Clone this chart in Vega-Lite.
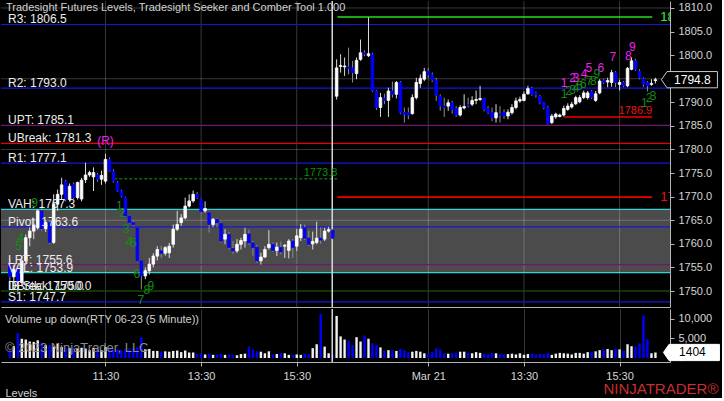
{
  "$schema": "https://vega.github.io/schema/vega-lite/v6.json",
  "background": "#000000",
  "padding": 0,
  "spacing": 0,
  "config": {
    "view": {"stroke": null},
    "font": "Liberation Sans",
    "text": {"font": "Liberation Sans"},
    "axis": {"labelFont": "Liberation Sans", "titleFont": "Liberation Sans"}
  },
  "title": {"text": "NINJATRADER®", "orient": "bottom", "anchor": "end", "offset": -16, "fontSize": 15, "fontWeight": "normal", "color": "#c23030", "font": "Liberation Sans", "dx": -3},
  "datasets": {
    "bars": [
      {"i":0,"o":1755.5,"h":1757.0,"l":1752.0,"c":1753.0,"v":2000},
      {"i":1,"o":1753.0,"h":1755.5,"l":1750.5,"c":1754.6,"v":3000},
      {"i":2,"o":1754.6,"h":1755.5,"l":1749.5,"c":1751.8,"v":6300},
      {"i":3,"o":1751.8,"h":1757.5,"l":1751.0,"c":1756.4,"v":4900},
      {"i":4,"o":1756.4,"h":1762.0,"l":1755.5,"c":1761.3,"v":4700},
      {"i":5,"o":1761.3,"h":1763.5,"l":1759.5,"c":1762.7,"v":4200},
      {"i":6,"o":1762.7,"h":1765.5,"l":1761.0,"c":1764.0,"v":4100},
      {"i":7,"o":1763.4,"h":1767.2,"l":1763.0,"c":1767.0,"v":4500},
      {"i":8,"o":1767.0,"h":1768.0,"l":1762.8,"c":1763.2,"v":3900},
      {"i":9,"o":1763.2,"h":1765.0,"l":1762.5,"c":1764.5,"v":3300},
      {"i":10,"o":1764.5,"h":1765.0,"l":1760.0,"c":1760.3,"v":3300},
      {"i":11,"o":1760.3,"h":1770.5,"l":1760.0,"c":1768.4,"v":2900},
      {"i":12,"o":1768.4,"h":1771.5,"l":1767.0,"c":1770.5,"v":3700},
      {"i":13,"o":1770.5,"h":1774.0,"l":1769.5,"c":1772.5,"v":2800},
      {"i":14,"o":1773.2,"h":1773.5,"l":1769.0,"c":1769.4,"v":2600},
      {"i":15,"o":1769.4,"h":1772.8,"l":1769.0,"c":1772.2,"v":2500},
      {"i":16,"o":1772.6,"h":1773.0,"l":1769.5,"c":1769.8,"v":2700},
      {"i":17,"o":1769.8,"h":1773.2,"l":1769.4,"c":1773.0,"v":2300},
      {"i":18,"o":1769.5,"h":1774.0,"l":1769.0,"c":1773.5,"v":2600},
      {"i":19,"o":1773.6,"h":1777.2,"l":1772.9,"c":1774.6,"v":2400},
      {"i":20,"o":1774.6,"h":1775.5,"l":1774.2,"c":1775.1,"v":2000},
      {"i":21,"o":1774.2,"h":1776.2,"l":1771.2,"c":1775.1,"v":2600},
      {"i":22,"o":1774.6,"h":1775.0,"l":1773.2,"c":1773.7,"v":2300},
      {"i":23,"o":1773.7,"h":1775.5,"l":1772.5,"c":1774.5,"v":2000},
      {"i":24,"o":1773.3,"h":1779.1,"l":1772.8,"c":1777.9,"v":2800},
      {"i":25,"o":1777.9,"h":1778.3,"l":1775.2,"c":1775.4,"v":2400},
      {"i":26,"o":1775.4,"h":1775.8,"l":1773.0,"c":1773.3,"v":2100},
      {"i":27,"o":1773.0,"h":1773.3,"l":1771.0,"c":1771.2,"v":2300},
      {"i":28,"o":1771.2,"h":1771.5,"l":1769.8,"c":1770.1,"v":2000},
      {"i":29,"o":1769.8,"h":1770.0,"l":1765.7,"c":1765.9,"v":2300},
      {"i":30,"o":1765.9,"h":1766.2,"l":1764.3,"c":1764.5,"v":2400},
      {"i":31,"o":1764.5,"h":1764.8,"l":1763.8,"c":1764.1,"v":2600},
      {"i":32,"o":1763.4,"h":1763.6,"l":1756.2,"c":1756.4,"v":2800},
      {"i":33,"o":1756.4,"h":1756.6,"l":1750.4,"c":1753.2,"v":5300},
      {"i":34,"o":1753.2,"h":1755.0,"l":1752.5,"c":1754.3,"v":2200},
      {"i":35,"o":1754.3,"h":1757.0,"l":1753.5,"c":1755.7,"v":2300},
      {"i":36,"o":1755.7,"h":1758.0,"l":1755.0,"c":1757.4,"v":1800},
      {"i":37,"o":1757.4,"h":1759.5,"l":1756.5,"c":1758.8,"v":1800},
      {"i":38,"o":1758.5,"h":1759.5,"l":1757.0,"c":1758.0,"v":1600},
      {"i":39,"o":1758.0,"h":1759.5,"l":1757.5,"c":1759.2,"v":1700},
      {"i":40,"o":1758.1,"h":1760.2,"l":1757.0,"c":1759.5,"v":1600},
      {"i":41,"o":1759.9,"h":1764.1,"l":1759.2,"c":1763.1,"v":1800},
      {"i":42,"o":1763.1,"h":1767.0,"l":1762.7,"c":1764.1,"v":1900},
      {"i":43,"o":1764.5,"h":1766.3,"l":1763.8,"c":1765.5,"v":1500},
      {"i":44,"o":1765.5,"h":1769.8,"l":1765.2,"c":1768.0,"v":1900},
      {"i":45,"o":1768.0,"h":1770.5,"l":1767.7,"c":1769.1,"v":1400},
      {"i":46,"o":1769.1,"h":1771.3,"l":1768.7,"c":1770.5,"v":1400},
      {"i":47,"o":1770.5,"h":1771.0,"l":1769.5,"c":1769.8,"v":1000},
      {"i":48,"o":1769.4,"h":1769.6,"l":1766.5,"c":1766.8,"v":1200},
      {"i":49,"o":1767.0,"h":1769.0,"l":1766.6,"c":1767.5,"v":900},
      {"i":50,"o":1766.6,"h":1766.8,"l":1762.4,"c":1764.1,"v":1100},
      {"i":51,"o":1764.1,"h":1765.5,"l":1763.5,"c":1765.2,"v":800},
      {"i":52,"o":1765.2,"h":1765.5,"l":1763.5,"c":1764.5,"v":900},
      {"i":53,"o":1764.3,"h":1764.6,"l":1760.3,"c":1760.6,"v":1100},
      {"i":54,"o":1761.0,"h":1763.1,"l":1759.9,"c":1762.0,"v":800},
      {"i":55,"o":1762.0,"h":1762.5,"l":1758.8,"c":1759.2,"v":900},
      {"i":56,"o":1759.0,"h":1760.6,"l":1757.9,"c":1758.5,"v":700},
      {"i":57,"o":1758.5,"h":1761.0,"l":1758.1,"c":1759.9,"v":700},
      {"i":58,"o":1759.9,"h":1761.3,"l":1758.8,"c":1760.7,"v":1000},
      {"i":59,"o":1760.6,"h":1763.4,"l":1759.2,"c":1762.0,"v":1100},
      {"i":60,"o":1762.1,"h":1763.0,"l":1759.8,"c":1760.2,"v":2900},
      {"i":61,"o":1760.2,"h":1760.6,"l":1757.5,"c":1759.2,"v":2100},
      {"i":62,"o":1759.3,"h":1759.8,"l":1756.0,"c":1756.4,"v":1700},
      {"i":63,"o":1756.4,"h":1758.1,"l":1755.6,"c":1757.2,"v":1600},
      {"i":64,"o":1757.2,"h":1759.5,"l":1757.0,"c":1758.8,"v":1200},
      {"i":65,"o":1759.2,"h":1762.9,"l":1758.8,"c":1759.9,"v":1700},
      {"i":66,"o":1759.9,"h":1760.3,"l":1758.3,"c":1758.6,"v":900},
      {"i":67,"o":1758.6,"h":1760.3,"l":1757.4,"c":1759.3,"v":1000},
      {"i":68,"o":1759.2,"h":1760.5,"l":1757.8,"c":1758.3,"v":1300},
      {"i":69,"o":1759.5,"h":1760.0,"l":1757.0,"c":1759.7,"v":1200},
      {"i":70,"o":1758.6,"h":1761.0,"l":1756.9,"c":1760.6,"v":800},
      {"i":71,"o":1760.6,"h":1761.0,"l":1757.0,"c":1759.2,"v":800},
      {"i":72,"o":1759.5,"h":1763.1,"l":1758.5,"c":1761.7,"v":900},
      {"i":73,"o":1761.3,"h":1764.2,"l":1760.6,"c":1763.1,"v":800},
      {"i":74,"o":1763.4,"h":1764.1,"l":1760.8,"c":1761.2,"v":1100},
      {"i":75,"o":1761.2,"h":1762.8,"l":1759.5,"c":1759.9,"v":900},
      {"i":76,"o":1760.0,"h":1762.6,"l":1758.8,"c":1760.5,"v":2500},
      {"i":77,"o":1760.3,"h":1764.7,"l":1759.9,"c":1761.2,"v":3500},
      {"i":78,"o":1761.2,"h":1763.5,"l":1760.0,"c":1760.8,"v":11200},
      {"i":79,"o":1761.0,"h":1763.4,"l":1760.6,"c":1762.7,"v":2900},
      {"i":80,"o":1762.7,"h":1763.6,"l":1762.4,"c":1763.0,"v":1200},
      {"i":81,"o":1762.9,"h":1763.2,"l":1760.9,"c":1761.2,"v":800},
      {"i":82,"o":1791.3,"h":1799.1,"l":1790.6,"c":1797.3,"v":10700},
      {"i":83,"o":1797.6,"h":1800.2,"l":1796.3,"c":1797.8,"v":5500},
      {"i":84,"o":1797.5,"h":1799.5,"l":1795.6,"c":1797.7,"v":4700},
      {"i":85,"o":1797.5,"h":1801.6,"l":1795.9,"c":1797.2,"v":4400},
      {"i":86,"o":1797.3,"h":1798.8,"l":1794.2,"c":1796.3,"v":3300},
      {"i":87,"o":1796.1,"h":1799.5,"l":1794.9,"c":1798.9,"v":5300},
      {"i":88,"o":1799.1,"h":1803.3,"l":1798.8,"c":1800.5,"v":4200},
      {"i":89,"o":1800.5,"h":1801.0,"l":1799.8,"c":1800.2,"v":5700},
      {"i":90,"o":1799.9,"h":1808.0,"l":1799.6,"c":1800.3,"v":4900},
      {"i":91,"o":1800.2,"h":1800.5,"l":1792.2,"c":1792.5,"v":3700},
      {"i":92,"o":1792.4,"h":1792.6,"l":1788.4,"c":1788.9,"v":3300},
      {"i":93,"o":1788.9,"h":1792.0,"l":1786.9,"c":1791.0,"v":2700},
      {"i":94,"o":1790.9,"h":1791.8,"l":1789.6,"c":1790.4,"v":1800},
      {"i":95,"o":1790.4,"h":1793.1,"l":1786.9,"c":1792.4,"v":2000},
      {"i":96,"o":1792.4,"h":1794.4,"l":1791.0,"c":1791.7,"v":2000},
      {"i":97,"o":1791.7,"h":1794.5,"l":1790.8,"c":1794.2,"v":1800},
      {"i":98,"o":1794.2,"h":1794.5,"l":1787.5,"c":1787.8,"v":2300},
      {"i":99,"o":1787.8,"h":1788.9,"l":1785.7,"c":1787.4,"v":2000},
      {"i":100,"o":1787.8,"h":1788.9,"l":1786.4,"c":1787.3,"v":1500},
      {"i":101,"o":1787.6,"h":1791.7,"l":1787.4,"c":1791.0,"v":1600},
      {"i":102,"o":1791.0,"h":1795.2,"l":1790.6,"c":1794.2,"v":1800},
      {"i":103,"o":1794.0,"h":1795.9,"l":1793.1,"c":1795.1,"v":1600},
      {"i":104,"o":1794.9,"h":1797.3,"l":1794.5,"c":1796.5,"v":1200},
      {"i":105,"o":1796.6,"h":1797.3,"l":1795.2,"c":1795.8,"v":1100},
      {"i":106,"o":1795.8,"h":1796.3,"l":1794.3,"c":1794.7,"v":1500},
      {"i":107,"o":1794.7,"h":1795.2,"l":1790.3,"c":1791.5,"v":2500},
      {"i":108,"o":1791.3,"h":1791.7,"l":1788.2,"c":1789.2,"v":2200},
      {"i":109,"o":1789.2,"h":1791.0,"l":1786.9,"c":1788.9,"v":1200},
      {"i":110,"o":1789.2,"h":1790.6,"l":1788.2,"c":1789.9,"v":1100},
      {"i":111,"o":1789.9,"h":1790.3,"l":1787.6,"c":1788.5,"v":1200},
      {"i":112,"o":1788.7,"h":1789.2,"l":1786.9,"c":1787.3,"v":1400},
      {"i":113,"o":1787.3,"h":1789.4,"l":1787.0,"c":1788.9,"v":1600},
      {"i":114,"o":1788.8,"h":1791.7,"l":1788.5,"c":1789.1,"v":1600},
      {"i":115,"o":1789.5,"h":1791.0,"l":1788.9,"c":1789.3,"v":1300},
      {"i":116,"o":1789.6,"h":1791.3,"l":1789.2,"c":1790.4,"v":1200},
      {"i":117,"o":1790.4,"h":1792.5,"l":1789.6,"c":1790.6,"v":1500},
      {"i":118,"o":1790.6,"h":1793.5,"l":1790.3,"c":1790.8,"v":1300},
      {"i":119,"o":1790.8,"h":1791.0,"l":1788.1,"c":1788.5,"v":1100},
      {"i":120,"o":1788.7,"h":1789.2,"l":1787.5,"c":1787.8,"v":1000},
      {"i":121,"o":1787.8,"h":1788.9,"l":1786.0,"c":1786.7,"v":1300},
      {"i":122,"o":1786.7,"h":1789.6,"l":1785.7,"c":1787.8,"v":1200},
      {"i":123,"o":1787.5,"h":1789.2,"l":1785.7,"c":1787.3,"v":1000},
      {"i":124,"o":1787.9,"h":1788.5,"l":1786.5,"c":1787.2,"v":900},
      {"i":125,"o":1787.1,"h":1788.5,"l":1786.4,"c":1787.9,"v":1000},
      {"i":126,"o":1787.8,"h":1789.6,"l":1787.4,"c":1788.9,"v":1100},
      {"i":127,"o":1788.9,"h":1791.0,"l":1788.5,"c":1790.3,"v":900},
      {"i":128,"o":1790.3,"h":1791.2,"l":1789.9,"c":1790.6,"v":1200},
      {"i":129,"o":1790.4,"h":1792.3,"l":1790.2,"c":1791.7,"v":800},
      {"i":130,"o":1791.8,"h":1793.5,"l":1791.6,"c":1792.9,"v":1000},
      {"i":131,"o":1793.0,"h":1793.3,"l":1791.4,"c":1791.7,"v":1100},
      {"i":132,"o":1792.0,"h":1792.3,"l":1791.0,"c":1791.6,"v":900},
      {"i":133,"o":1791.3,"h":1791.6,"l":1789.6,"c":1789.9,"v":1100},
      {"i":134,"o":1789.9,"h":1790.1,"l":1788.5,"c":1788.9,"v":1000},
      {"i":135,"o":1788.9,"h":1789.2,"l":1785.3,"c":1785.5,"v":1300},
      {"i":136,"o":1785.7,"h":1787.5,"l":1785.4,"c":1787.1,"v":800},
      {"i":137,"o":1786.9,"h":1787.8,"l":1786.5,"c":1787.5,"v":1100},
      {"i":138,"o":1787.0,"h":1787.6,"l":1786.8,"c":1787.3,"v":1300},
      {"i":139,"o":1787.3,"h":1789.3,"l":1787.0,"c":1788.7,"v":1200},
      {"i":140,"o":1788.5,"h":1789.8,"l":1788.2,"c":1789.2,"v":1100},
      {"i":141,"o":1789.0,"h":1790.1,"l":1788.7,"c":1789.6,"v":900},
      {"i":142,"o":1789.7,"h":1791.4,"l":1789.4,"c":1791.0,"v":1300},
      {"i":143,"o":1790.1,"h":1791.5,"l":1789.8,"c":1791.0,"v":1300},
      {"i":144,"o":1791.0,"h":1792.5,"l":1790.7,"c":1792.0,"v":1100},
      {"i":145,"o":1791.0,"h":1792.4,"l":1790.6,"c":1792.0,"v":1500},
      {"i":146,"o":1792.3,"h":1792.6,"l":1790.7,"c":1791.0,"v":1500},
      {"i":147,"o":1790.4,"h":1792.4,"l":1790.1,"c":1791.8,"v":1700},
      {"i":148,"o":1792.0,"h":1794.9,"l":1791.7,"c":1794.5,"v":2000},
      {"i":149,"o":1794.7,"h":1795.0,"l":1793.9,"c":1794.2,"v":2200},
      {"i":150,"o":1794.3,"h":1795.2,"l":1793.2,"c":1794.6,"v":2300},
      {"i":151,"o":1794.2,"h":1796.9,"l":1793.3,"c":1796.3,"v":2000},
      {"i":152,"o":1796.3,"h":1796.6,"l":1793.2,"c":1794.2,"v":2400},
      {"i":153,"o":1793.8,"h":1794.8,"l":1792.5,"c":1794.2,"v":2200},
      {"i":154,"o":1794.2,"h":1794.5,"l":1793.2,"c":1793.5,"v":1800},
      {"i":155,"o":1793.5,"h":1797.5,"l":1793.2,"c":1797.2,"v":3500},
      {"i":156,"o":1797.0,"h":1799.5,"l":1796.8,"c":1798.8,"v":3000},
      {"i":157,"o":1798.8,"h":1799.2,"l":1796.7,"c":1797.0,"v":2900},
      {"i":158,"o":1796.6,"h":1797.0,"l":1794.9,"c":1795.2,"v":3700},
      {"i":159,"o":1795.0,"h":1795.3,"l":1793.3,"c":1793.8,"v":10800},
      {"i":160,"o":1794.2,"h":1794.5,"l":1792.3,"c":1793.5,"v":4800},
      {"i":161,"o":1793.8,"h":1794.9,"l":1793.5,"c":1794.0,"v":1200},
      {"i":162,"o":1794.6,"h":1795.2,"l":1794.0,"c":1794.8,"v":1404}
    ],
    "levels": [
      {"n":"R3: 1806.5","p":1806.5,"k":"piv"},
      {"n":"R2: 1793.0","p":1793.0,"k":"piv"},
      {"n":"UPT: 1785.1","p":1785.1,"k":"tgt"},
      {"n":"UBreak: 1781.3","p":1781.3,"k":"brk"},
      {"n":"R1: 1777.1","p":1777.1,"k":"piv"},
      {"n":"VAH: 1767.3","p":1767.3,"k":"va"},
      {"n":"Pivot: 1763.6","p":1763.6,"k":"piv"},
      {"n":"LRT: 1755.6","p":1755.6,"k":"tgt"},
      {"n":"VAL: 1753.9","p":1753.9,"k":"va"},
      {"n":"DBreak: 1750.0","p":1750.0,"k":"dbrk"},
      {"n":"IB Stk: 1750.0","p":1750.0,"k":"dbrk"},
      {"n":"S1: 1747.7","p":1747.7,"k":"piv"}
    ],
    "valueArea": [{"lo":1753.9,"hi":1767.3}],
    "hgrid": [{"p":1750},{"p":1765},{"p":1780},{"p":1795},{"p":1810}],
    "vgrid": [{"i":24},{"i":48},{"i":72},{"i":105},{"i":129},{"i":153}],
    "session": [{"i":80.9}],
    "segments": [
      {"x1":82.2,"x2":161.2,"p":1808.1,"k":"g","t":"1808.1"},
      {"x1":82.2,"x2":161.2,"p":1769.9,"k":"r","t":"1769.9"},
      {"x1":26.2,"x2":82.2,"p":1773.8,"k":"d","t":"1773.8"},
      {"x1":139.1,"x2":161.2,"p":1786.9,"k":"t","t":"1786.9"}
    ],
    "tags": [
      {"i":24.0,"p":1781.8,"t":"(R)","k":"s"},
      {"i":139.1,"p":1794.1,"t":"1","k":"s"},
      {"i":141.2,"p":1795.2,"t":"2","k":"s"},
      {"i":142.1,"p":1795.2,"t":"3","k":"s"},
      {"i":144.1,"p":1796.0,"t":"4","k":"s"},
      {"i":145.3,"p":1797.3,"t":"5","k":"s"},
      {"i":148.3,"p":1797.3,"t":"6","k":"s"},
      {"i":151.3,"p":1799.6,"t":"7","k":"s"},
      {"i":155.2,"p":1799.8,"t":"8","k":"s"},
      {"i":156.2,"p":1801.7,"t":"9","k":"s"},
      {"i":139.1,"p":1791.7,"t":"1","k":"c"},
      {"i":140.2,"p":1792.3,"t":"2","k":"c"},
      {"i":141.2,"p":1792.6,"t":"3","k":"c"},
      {"i":142.1,"p":1793.0,"t":"4","k":"c"},
      {"i":142.9,"p":1793.5,"t":"5","k":"c"},
      {"i":143.9,"p":1793.9,"t":"6","k":"c"},
      {"i":145.4,"p":1794.5,"t":"7","k":"c"},
      {"i":146.4,"p":1794.5,"t":"8","k":"c"},
      {"i":147.3,"p":1796.0,"t":"9","k":"c"},
      {"i":159.2,"p":1789.9,"t":"1","k":"c"},
      {"i":160.4,"p":1790.9,"t":"2","k":"c"},
      {"i":161.4,"p":1791.3,"t":"3","k":"c"},
      {"i":6.2,"p":1768.7,"t":"9","k":"c"},
      {"i":2.7,"p":1761.2,"t":"4","k":"c"},
      {"i":2.2,"p":1759.5,"t":"5","k":"c"},
      {"i":27.5,"p":1768.0,"t":"1","k":"c"},
      {"i":28.2,"p":1766.5,"t":"2","k":"c"},
      {"i":29.2,"p":1763.1,"t":"3","k":"c"},
      {"i":29.9,"p":1760.4,"t":"4","k":"c"},
      {"i":31.0,"p":1760.2,"t":"5","k":"c"},
      {"i":31.9,"p":1753.6,"t":"6","k":"c"},
      {"i":32.9,"p":1748.1,"t":"7","k":"c"},
      {"i":34.4,"p":1750.2,"t":"8","k":"c"},
      {"i":35.4,"p":1751.1,"t":"9","k":"c"}
    ]
  },
  "vconcat": [
    {
      "width": 669,
      "height": 306,
      "title": {"text": "Tradesight Futures Levels, Tradesight Seeker and Comber Tool 1.000", "anchor": "start", "frame": "group", "orient": "top", "offset": -13, "dx": 5, "baseline": "top", "fontSize": 11, "fontWeight": "normal", "color": "#d2d2d2", "font": "Liberation Sans"},
      "resolve": {"scale": {"color": "independent", "strokeDash": "independent", "strokeWidth": "independent"}, "axis": {"x": "independent", "y": "independent"}},
      "layer": [
        {
          "data": {"name": "bars"},
          "mark": {"type": "rule", "strokeWidth": 1},
          "encoding": {
            "x": {"field": "i", "type": "quantitative", "scale": {"domain": [-0.96, 164.4], "nice": false, "zero": false}, "axis": {"orient": "bottom", "labels": false, "ticks": false, "grid": false, "domain": true, "domainColor": "#b4b4b4", "title": null}},
            "y": {"field": "l", "type": "quantitative", "scale": {"domain": [1746.61, 1811.48], "nice": false, "zero": false}, "axis": {"orient": "right", "values": [1750, 1755, 1760, 1765, 1770, 1775, 1780, 1785, 1790, 1795, 1800, 1805, 1810], "format": ".1f", "grid": false, "title": null, "domainColor": "#b4b4b4", "tickColor": "#b4b4b4", "tickSize": 4, "labelColor": "#d6d6d6", "labelFontSize": 11, "labelPadding": 4}},
            "y2": {"field": "h"},
            "opacity": {"value": 0}
          }
        },
        {
          "data": {"name": "valueArea"},
          "mark": {"type": "rect", "color": "#4b4b4b"},
          "encoding": {
            "y": {"field": "lo", "type": "quantitative", "scale": {"domain": [1746.61, 1811.48], "nice": false, "zero": false}, "axis": null},
            "y2": {"field": "hi"}
          }
        },
        {
          "data": {"name": "hgrid"},
          "mark": {"type": "rule", "color": "#ffffff", "opacity": 0.22, "strokeWidth": 1},
          "encoding": {
            "y": {"field": "p", "type": "quantitative", "scale": {"domain": [1746.61, 1811.48], "nice": false, "zero": false}, "axis": null}
          }
        },
        {
          "data": {"name": "vgrid"},
          "mark": {"type": "rule", "color": "#ffffff", "opacity": 0.22, "strokeWidth": 1},
          "encoding": {
            "x": {"field": "i", "type": "quantitative", "scale": {"domain": [-0.96, 164.4], "nice": false, "zero": false}, "axis": null}
          }
        },
        {
          "data": {"name": "levels"},
          "mark": {"type": "rule"},
          "encoding": {
            "y": {"field": "p", "type": "quantitative", "scale": {"domain": [1746.61, 1811.48], "nice": false, "zero": false}, "axis": null},
            "color": {"field": "k", "type": "nominal", "scale": {"domain": ["piv", "tgt", "brk", "va", "dbrk"], "range": ["#1616d8", "#701870", "#e80000", "#30d4d4", "#073f07"]}, "legend": null},
            "strokeWidth": {"field": "k", "type": "nominal", "scale": {"domain": ["piv", "tgt", "brk", "va", "dbrk"], "range": [1.2, 1.1, 1.4, 1.4, 2.6]}, "legend": null}
          }
        },
        {
          "data": {"name": "segments"},
          "mark": {"type": "rule", "strokeWidth": 1.6},
          "encoding": {
            "x": {"field": "x1", "type": "quantitative", "scale": {"domain": [-0.96, 164.4], "nice": false, "zero": false}, "axis": null},
            "x2": {"field": "x2"},
            "y": {"field": "p", "type": "quantitative", "scale": {"domain": [1746.61, 1811.48], "nice": false, "zero": false}, "axis": null},
            "color": {"field": "k", "type": "nominal", "scale": {"domain": ["g", "r", "d", "t"], "range": ["#22e022", "#f00000", "#0a6a0a", "#f00000"]}, "legend": null},
            "strokeDash": {"field": "k", "type": "nominal", "scale": {"domain": ["g", "r", "d", "t"], "range": [[1, 0], [1, 0], [3, 2], [1, 0]]}, "legend": null}
          }
        },
        {
          "data": {"name": "session"},
          "mark": {"type": "rule", "color": "#d8d8d8", "strokeWidth": 1.5},
          "encoding": {
            "x": {"field": "i", "type": "quantitative", "scale": {"domain": [-0.96, 164.4], "nice": false, "zero": false}, "axis": null}
          }
        },
        {
          "data": {"name": "bars"},
          "mark": {"type": "rule", "strokeWidth": 1},
          "encoding": {
            "x": {"field": "i", "type": "quantitative", "scale": {"domain": [-0.96, 164.4], "nice": false, "zero": false}, "axis": null},
            "y": {"field": "l", "type": "quantitative", "scale": {"domain": [1746.61, 1811.48], "nice": false, "zero": false}, "axis": null},
            "y2": {"field": "h"},
            "color": {"condition": {"test": "datum.c < datum.o", "value": "#8c8c8c"}, "value": "#dcdcdc"}
          }
        },
        {
          "data": {"name": "bars"},
          "mark": {"type": "bar", "size": 2.6, "strokeWidth": 0.8},
          "encoding": {
            "x": {"field": "i", "type": "quantitative", "scale": {"domain": [-0.96, 164.4], "nice": false, "zero": false}, "axis": null},
            "y": {"field": "o", "type": "quantitative", "scale": {"domain": [1746.61, 1811.48], "nice": false, "zero": false}, "axis": null},
            "y2": {"field": "c"},
            "fill": {"condition": {"test": "datum.c < datum.o", "value": "#0000ff"}, "value": "#ffffff"},
            "stroke": {"condition": {"test": "datum.c < datum.o", "value": "#0000ff"}, "value": "#ffffff"}
          }
        },
        {
          "data": {"name": "levels"},
          "mark": {"type": "text", "align": "left", "baseline": "alphabetic", "dx": 2, "dy": -1, "fontSize": 12, "color": "#ececec"},
          "encoding": {
            "x": {"datum": -0.96, "type": "quantitative", "scale": {"domain": [-0.96, 164.4], "nice": false, "zero": false}, "axis": null},
            "y": {"field": "p", "type": "quantitative", "scale": {"domain": [1746.61, 1811.48], "nice": false, "zero": false}, "axis": null},
            "text": {"field": "n"}
          }
        },
        {
          "data": {"name": "tags"},
          "mark": {"type": "text", "align": "center", "baseline": "middle", "fontSize": 12},
          "encoding": {
            "x": {"field": "i", "type": "quantitative", "scale": {"domain": [-0.96, 164.4], "nice": false, "zero": false}, "axis": null},
            "y": {"field": "p", "type": "quantitative", "scale": {"domain": [1746.61, 1811.48], "nice": false, "zero": false}, "axis": null},
            "text": {"field": "t"},
            "color": {"field": "k", "type": "nominal", "scale": {"domain": ["s", "c"], "range": ["#ee22ee", "#178a17"]}, "legend": null}
          }
        },
        {
          "data": {"name": "segments"},
          "transform": [{"filter": "datum.k == 'g' || datum.k == 'r'"}],
          "mark": {"type": "text", "align": "left", "baseline": "middle", "dx": 8, "fontSize": 13, "clip": true},
          "encoding": {
            "x": {"field": "x2", "type": "quantitative", "scale": {"domain": [-0.96, 164.4], "nice": false, "zero": false}, "axis": null},
            "y": {"field": "p", "type": "quantitative", "scale": {"domain": [1746.61, 1811.48], "nice": false, "zero": false}, "axis": null},
            "text": {"field": "t"},
            "color": {"field": "k", "type": "nominal", "scale": {"domain": ["g", "r"], "range": ["#33ee33", "#ee1111"]}, "legend": null}
          }
        },
        {
          "data": {"name": "segments"},
          "transform": [{"filter": "datum.k == 'd' || datum.k == 't'"}],
          "mark": {"type": "text", "align": "right", "baseline": "alphabetic", "dy": -3, "fontSize": 11},
          "encoding": {
            "x": {"field": "x2", "type": "quantitative", "scale": {"domain": [-0.96, 164.4], "nice": false, "zero": false}, "axis": null},
            "y": {"field": "p", "type": "quantitative", "scale": {"domain": [1746.61, 1811.48], "nice": false, "zero": false}, "axis": null},
            "text": {"field": "t"},
            "color": {"field": "k", "type": "nominal", "scale": {"domain": ["d", "t"], "range": ["#0b8a0b", "#ee1111"]}, "legend": null}
          }
        },
        {
          "data": {"name": "bars"},
          "transform": [{"filter": "datum.i == 162"}],
          "mark": {"type": "point", "shape": "M-1,0L-0.8,-0.29L1,-0.29L1,0.29L-0.8,0.29Z", "size": 3136, "xOffset": 34, "fill": "#000000", "stroke": "#c8c8c8", "strokeWidth": 1, "opacity": 1, "fillOpacity": 1},
          "encoding": {
            "x": {"field": "i", "type": "quantitative", "scale": {"domain": [-0.96, 164.4], "nice": false, "zero": false}, "axis": null},
            "y": {"field": "c", "type": "quantitative", "scale": {"domain": [1746.61, 1811.48], "nice": false, "zero": false}, "axis": null}
          }
        },
        {
          "data": {"name": "bars"},
          "transform": [{"filter": "datum.i == 162"}],
          "mark": {"type": "text", "align": "center", "baseline": "middle", "dx": 37, "fontSize": 12, "color": "#ffffff"},
          "encoding": {
            "x": {"field": "i", "type": "quantitative", "scale": {"domain": [-0.96, 164.4], "nice": false, "zero": false}, "axis": null},
            "y": {"field": "c", "type": "quantitative", "scale": {"domain": [1746.61, 1811.48], "nice": false, "zero": false}, "axis": null},
            "text": {"field": "c", "format": ".1f"}
          }
        }
      ]
    },
    {
      "width": 669,
      "height": 53,
      "title": {"text": "Volume up down(RTY 06-23 (5 Minute))", "subtitle": "© 2023 NinjaTrader, LLC", "anchor": "start", "frame": "group", "orient": "top", "offset": -47, "dx": 4, "baseline": "top", "fontSize": 11, "fontWeight": "normal", "color": "#d2d2d2", "font": "Liberation Sans", "subtitleFont": "Liberation Sans", "subtitleFontSize": 13, "subtitleColor": "#8a8a8a", "subtitlePadding": 17},
      "resolve": {"axis": {"x": "independent", "y": "independent"}},
      "layer": [
        {
          "data": {"name": "bars"},
          "mark": {"type": "bar", "size": 2.4},
          "encoding": {
            "x": {"field": "i", "type": "quantitative", "scale": {"domain": [-0.96, 164.4], "nice": false, "zero": false}, "axis": {"orient": "bottom", "values": [24, 48, 72, 105, 129, 153], "labelExpr": "datum.value == 24 ? '11:30' : datum.value == 48 ? '13:30' : datum.value == 72 ? '15:30' : datum.value == 105 ? 'Mar 21' : datum.value == 129 ? '13:30' : '15:30'", "grid": true, "gridColor": "#ffffff", "gridOpacity": 0.22, "domainColor": "#b4b4b4", "tickColor": "#b4b4b4", "tickSize": 4, "labelColor": "#d6d6d6", "labelFontSize": 11, "labelPadding": 4, "title": "Levels", "titleAnchor": "start", "titleAlign": "left", "titleColor": "#d2d2d2", "titleFontSize": 11, "titleFontWeight": "normal", "titlePadding": 6, "titleX": 4}},
            "y": {"field": "v", "type": "quantitative", "scale": {"domain": [-1018, 12468], "nice": false, "zero": false}, "axis": {"orient": "right", "values": [0, 5000, 10000], "grid": false, "title": null, "domainColor": "#b4b4b4", "tickColor": "#b4b4b4", "tickSize": 4, "labelColor": "#d6d6d6", "labelFontSize": 11, "labelPadding": 4}},
            "y2": {"datum": 0},
            "color": {"condition": {"test": "datum.c < datum.o", "value": "#0000ff"}, "value": "#f0f0f0"}
          }
        },
        {
          "data": {"name": "session"},
          "mark": {"type": "rule", "color": "#d8d8d8", "strokeWidth": 1.5},
          "encoding": {
            "x": {"field": "i", "type": "quantitative", "scale": {"domain": [-0.96, 164.4], "nice": false, "zero": false}, "axis": null}
          }
        },
        {
          "data": {"name": "bars"},
          "transform": [{"filter": "datum.i == 162"}],
          "mark": {"type": "point", "shape": "M-1,0L-0.8,-0.29L1,-0.29L1,0.29L-0.8,0.29Z", "size": 3136, "xOffset": 36, "fill": "#ffffff", "stroke": "#ffffff", "strokeWidth": 1, "opacity": 1, "fillOpacity": 1},
          "encoding": {
            "x": {"field": "i", "type": "quantitative", "scale": {"domain": [-0.96, 164.4], "nice": false, "zero": false}, "axis": null},
            "y": {"field": "v", "type": "quantitative", "scale": {"domain": [-1018, 12468], "nice": false, "zero": false}, "axis": null}
          }
        },
        {
          "data": {"name": "bars"},
          "transform": [{"filter": "datum.i == 162"}],
          "mark": {"type": "text", "align": "center", "baseline": "middle", "dx": 37, "fontSize": 12, "color": "#000000"},
          "encoding": {
            "x": {"field": "i", "type": "quantitative", "scale": {"domain": [-0.96, 164.4], "nice": false, "zero": false}, "axis": null},
            "y": {"field": "v", "type": "quantitative", "scale": {"domain": [-1018, 12468], "nice": false, "zero": false}, "axis": null},
            "text": {"field": "v", "format": "d"}
          }
        }
      ]
    }
  ]
}
